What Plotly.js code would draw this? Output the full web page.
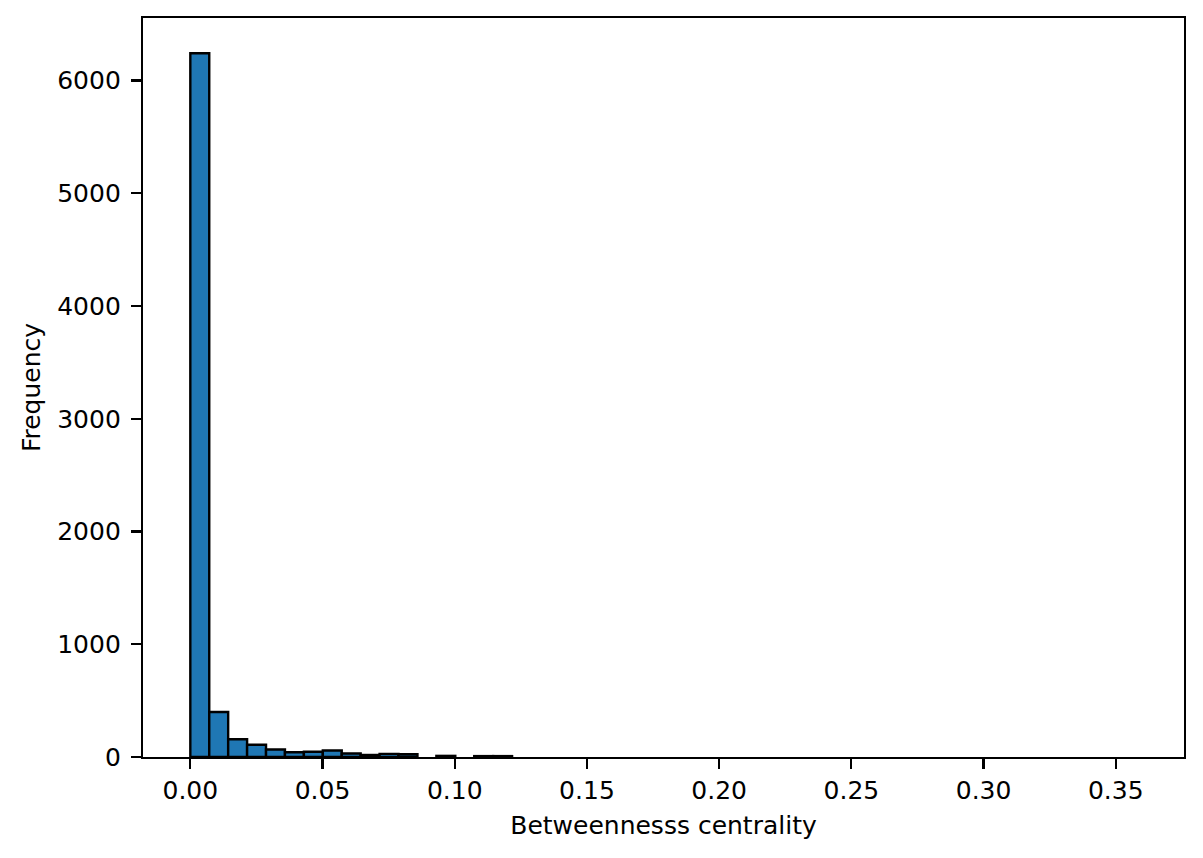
<!DOCTYPE html>
<html>
<head>
<meta charset="utf-8">
<script src="https://cdn.plot.ly/plotly-3.0.1.min.js"></script>
<style>html,body{margin:0;padding:0;background:#fff;}#chart{width:1203px;height:858px;}</style>
</head>
<body>
<div id="chart"></div>
<script>
// Histogram of betweenness centrality: 50 equal bins from 0 to the maximum value
const binMin = 0.0;
const binMax = 0.3579;
const binCounts = [
  6243, 399, 157, 109, 66, 42, 46, 58, 31, 18,
  28, 24, 0, 10, 0, 8, 8, 0, 0, 0,
  0, 0, 0, 0, 0, 0, 0, 0, 0, 0,
  0, 0, 0, 0, 0, 0, 0, 0, 0, 0,
  0, 0, 0, 0, 0, 0, 0, 0, 0, 0
];
const xTickVals = [0, 0.05, 0.10, 0.15, 0.20, 0.25, 0.30, 0.35];
const yTickVals = [0, 1000, 2000, 3000, 4000, 5000, 6000];
const xLabel = "Betweennesss centrality";
const yLabel = "Frequency";

const nBins = binCounts.length;
const binWidth = (binMax - binMin) / nBins;
const centers = binCounts.map((_, i) => binMin + (i + 0.5) * binWidth);
const maxCount = Math.max(...binCounts);
const xPad = 0.05 * (binMax - binMin);

const trace = {
  type: 'bar',
  x: centers,
  y: binCounts.map(c => (c > 0 ? c : null)),
  width: binCounts.map(() => binWidth),
  marker: {color: '#1f77b4', line: {color: '#000000', width: 2.4}},
  hoverinfo: 'x+y'
};

const font = {family: 'DejaVu Sans, sans-serif', size: 25, color: '#000'};

const layout = {
  width: 1203, height: 858,
  margin: {l: 143, r: 19, t: 18, b: 101, pad: 0},
  paper_bgcolor: '#fff', plot_bgcolor: '#fff',
  font: font,
  showlegend: false,
  bargap: 0,
  xaxis: {
    range: [binMin - xPad, binMax + xPad],
    tickvals: xTickVals,
    ticktext: xTickVals.map(v => v.toFixed(2)),
    ticks: 'outside', ticklen: 10, tickwidth: 2.2, tickcolor: '#000',
    showline: true, linecolor: '#000', linewidth: 2.2, mirror: true,
    showgrid: false, zeroline: false,
    tickfont: font,
    title: {text: xLabel, font: font, standoff: 12}
  },
  yaxis: {
    range: [0, maxCount * 1.05],
    tickvals: yTickVals,
    ticktext: yTickVals.map(v => String(v)),
    ticks: 'outside', ticklen: 10, tickwidth: 2.2, tickcolor: '#000',
    showline: true, linecolor: '#000', linewidth: 2.2, mirror: true,
    showgrid: false, zeroline: false,
    ticklabelstandoff: 5,
    tickfont: font,
    title: {text: yLabel, font: font, standoff: 10}
  }
};

Plotly.newPlot('chart', [trace], layout, {displayModeBar: false, staticPlot: true});
</script>
</body>
</html>
